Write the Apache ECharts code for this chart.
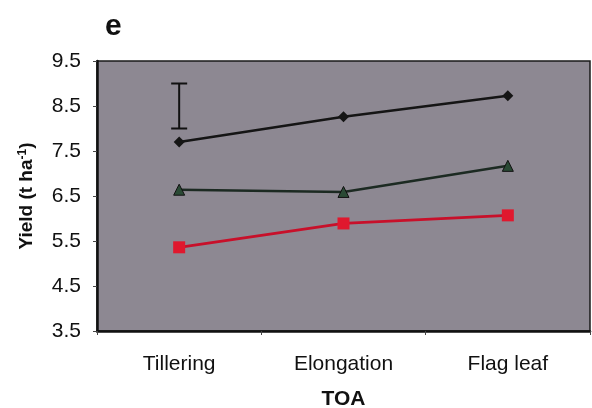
<!DOCTYPE html>
<html><head><meta charset="utf-8">
<script src="https://cdn.jsdelivr.net/npm/echarts@6/dist/echarts.min.js"></script>
<style>html,body{margin:0;padding:0;background:#fff}#c{width:592px;height:408px}</style>
</head><body><div id="c"></div>
<script>
var categories = ['Tillering', 'Elongation', 'Flag leaf'];
var seriesDiamond = [7.70, 8.26, 8.73];
var seriesTriangle = [6.64, 6.59, 7.17];
var seriesSquare = [5.36, 5.89, 6.07];
var lsdBar = [[0, 8.0, 9.0]];
var yTicks = [3.5, 4.5, 5.5, 6.5, 7.5, 8.5, 9.5];

var chart = echarts.init(document.getElementById('c'));
var font = 'Liberation Sans, Arial, sans-serif';
chart.setOption({
  animation: false,
  title: { text: 'e', left: 100, top: 7, textStyle: { fontFamily: font, fontSize: 30, fontWeight: 'bold', color: '#111' } },
  grid: { left: 97, right: 2, top: 61, bottom: 77, outerBoundsMode: 'none', containLabel: false, show: true, backgroundColor: '#8d8892', borderColor: '#1a1a1a', borderWidth: 1.5 },
  xAxis: {
    type: 'category', data: categories, boundaryGap: true,
    name: 'TOA', nameLocation: 'middle', nameGap: 58,
    nameTextStyle: { fontFamily: font, fontSize: 21, fontWeight: 'bold', color: '#111' },
    axisLine: { lineStyle: { color: '#111', width: 2.5 } },
    axisTick: { show: true, length: 4, lineStyle: { color: '#444' } },
    axisLabel: { fontFamily: font, fontSize: 21, color: '#111', margin: 23 }
  },
  yAxis: {
    type: 'value', min: yTicks[0], max: yTicks[yTicks.length - 1], interval: 1,
    name: 'Yield (t ha{sup|-1})', nameLocation: 'middle', nameGap: 60, nameRotate: 90,
    nameTextStyle: { fontFamily: font, fontSize: 19, fontWeight: 'bold', color: '#111',
      rich: { sup: { fontFamily: font, fontSize: 12, fontWeight: 'bold', color: '#111', verticalAlign: 'top', padding: [0, 0, 8, 0] } } },
    axisLine: { show: true, lineStyle: { color: '#111', width: 2.5 } },
    axisTick: { show: true, length: 4, lineStyle: { color: '#444' } },
    splitLine: { show: false },
    axisLabel: { fontFamily: font, fontSize: 21, color: '#111', margin: 16, formatter: function (v) { return v.toFixed(1); } }
  },
  series: [
    { type: 'line', data: seriesDiamond, symbol: 'diamond', symbolSize: 11,
      lineStyle: { color: '#151515', width: 2.5 }, itemStyle: { color: '#151515' } },
    { type: 'line', data: seriesTriangle, symbol: 'triangle', symbolSize: 11,
      lineStyle: { color: '#1c2a22', width: 2.5 }, itemStyle: { color: '#2a4a35', borderColor: '#111', borderWidth: 1 } },
    { type: 'line', data: seriesSquare, symbol: 'rect', symbolSize: 12,
      lineStyle: { color: '#c8102a', width: 2.8 }, itemStyle: { color: '#e0182e' } },
    { type: 'custom', data: lsdBar, silent: true,
      renderItem: function (params, api) {
        var x = api.value(0);
        var lo = api.coord([x, api.value(1)]);
        var hi = api.coord([x, api.value(2)]);
        var hw = 8;
        var st = { stroke: '#111', lineWidth: 2 };
        return { type: 'group', children: [
          { type: 'line', shape: { x1: lo[0], y1: lo[1], x2: hi[0], y2: hi[1] }, style: st },
          { type: 'line', shape: { x1: lo[0] - hw, y1: lo[1], x2: lo[0] + hw, y2: lo[1] }, style: st },
          { type: 'line', shape: { x1: hi[0] - hw, y1: hi[1], x2: hi[0] + hw, y2: hi[1] }, style: st }
        ] };
      }
    }
  ]
});
</script></body></html>
